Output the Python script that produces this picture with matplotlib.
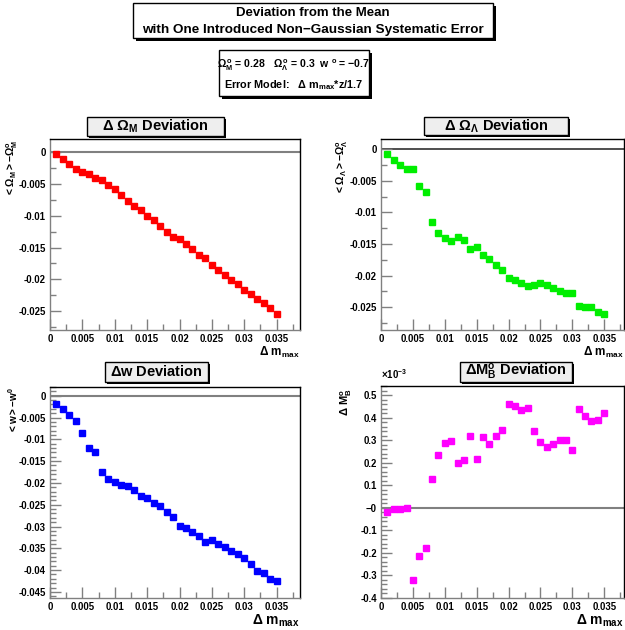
import matplotlib
matplotlib.use("Agg")
import matplotlib.pyplot as plt
from matplotlib.patches import Rectangle
from matplotlib.ticker import MultipleLocator, FuncFormatter
import numpy as np

plt.rcParams['font.family'] = ['Liberation Sans', 'DejaVu Sans']
plt.rcParams['mathtext.fontset'] = 'custom'
plt.rcParams['mathtext.rm'] = 'Liberation Sans:bold'
plt.rcParams['mathtext.it'] = 'Liberation Sans:bold'
plt.rcParams['mathtext.bf'] = 'Liberation Sans:bold'

# ---------------- data ----------------
dm_max = [0.001 * i for i in range(1, 36)]

d_omega_m = [-0.0003, -0.0011, -0.0018, -0.0026, -0.0031, -0.0034, -0.0040, -0.0044,
             -0.0051, -0.0058, -0.0067, -0.0076, -0.0084, -0.0091, -0.0100, -0.0107,
             -0.0116, -0.0126, -0.0133, -0.0137, -0.0145, -0.0153, -0.0162, -0.0166,
             -0.0178, -0.0186, -0.0194, -0.0201, -0.0208, -0.0217, -0.0224, -0.0231,
             -0.0238, -0.0246, -0.0254]

d_omega_l = [-0.0008, -0.0017, -0.0025, -0.0032, -0.0032, -0.0059, -0.0068, -0.0116,
             -0.0132, -0.0141, -0.0145, -0.0139, -0.0144, -0.0158, -0.0155, -0.0168,
             -0.0173, -0.0183, -0.0191, -0.0204, -0.0207, -0.0211, -0.0216, -0.0214,
             -0.0212, -0.0215, -0.0219, -0.0225, -0.0227, -0.0228, -0.0248, -0.0249,
             -0.0249, -0.0257, -0.0260]

d_w = [-0.0019, -0.0031, -0.0044, -0.0057, -0.0085, -0.0119, -0.0130, -0.0174,
       -0.0190, -0.0199, -0.0205, -0.0208, -0.0217, -0.0229, -0.0234, -0.0245,
       -0.0253, -0.0266, -0.0278, -0.0298, -0.0304, -0.0313, -0.0321, -0.0336,
       -0.0330, -0.0339, -0.0347, -0.0356, -0.0363, -0.0372, -0.0387, -0.0401,
       -0.0407, -0.0421, -0.0424]

# in units of 1e-3
d_mb = [-0.018, -0.006, -0.006, -0.003, -0.323, -0.215, -0.178, 0.129,
        0.233, 0.288, 0.297, 0.197, 0.211, 0.318, 0.217, 0.315,
        0.282, 0.318, 0.344, 0.461, 0.451, 0.435, 0.444, 0.340,
        0.291, 0.270, 0.282, 0.303, 0.303, 0.258, 0.438, 0.407,
        0.386, 0.392, 0.423]

W, H = 625, 630
fig = plt.figure(figsize=(W / 100, H / 100), dpi=100)
fig.patch.set_facecolor('white')


def fx(x):
    return x / W


def fy(y):
    return 1 - y / H


def box(x0, y0, x1, y1, fill='white', shadow='black', sh=3, lw=1.0):
    fig.patches.append(Rectangle((fx(x0 + sh), fy(y1 + sh)), fx(x1 - x0), (y1 - y0) / H,
                                 transform=fig.transFigure, facecolor=shadow,
                                 edgecolor='none', zorder=1))
    fig.patches.append(Rectangle((fx(x0), fy(y1)), fx(x1 - x0), (y1 - y0) / H,
                                 transform=fig.transFigure, facecolor=fill,
                                 edgecolor='black', lw=lw, zorder=2))


# Main title box
box(133, 3, 493, 38)
fig.text(fx(313), fy(13), 'Deviation from the Mean', ha='center', va='center',
         fontsize=9.5, fontweight='bold', zorder=3)
fig.text(fx(313), fy(30), 'with One Introduced Non\u2212Gaussian Systematic Error',
         ha='center', va='center', fontsize=9.7, fontweight='bold', zorder=3)

# Parameter box
box(219, 50, 369, 96)
fig.text(fx(294), fy(65),
         r'$\Omega^{\,o}_{M}$' + ' = 0.28   ' + r'$\Omega^{\,o}_{\Lambda}$'
         + ' = 0.3  w ' + r'$^{o}$' + ' = \u22120.7',
         ha='center', va='center', fontsize=7.6, fontweight='bold', zorder=3)
fig.text(fx(294), fy(85), 'Error Model:   \u0394 m' + r'$_{max}$' + '*z/1.7',
         ha='center', va='center', fontsize=7.8, fontweight='bold', zorder=3)

red = '#ff0000'
green = '#00ee00'
blue = '#0000ff'
magenta = '#ff00ff'


def make_ax(l, r, t, b, xlim, ylim, ymaj, ymin, yfmt):
    ax = fig.add_axes([fx(l), fy(b), fx(r - l), (b - t) / H])
    ax.set_xlim(*xlim)
    ax.set_ylim(*ylim)
    ax.xaxis.set_major_locator(MultipleLocator(0.005))
    ax.xaxis.set_minor_locator(MultipleLocator(0.0025))
    ax.yaxis.set_major_locator(MultipleLocator(ymaj))
    ax.yaxis.set_minor_locator(MultipleLocator(ymin))
    ax.xaxis.set_major_formatter(FuncFormatter(lambda v, p: '0' if abs(v) < 1e-12 else ('%g' % v)))
    ax.yaxis.set_major_formatter(FuncFormatter(yfmt))
    ax.tick_params(which='both', direction='in', top=False, right=False, color='#808080',
                   labelsize=6.9, pad=3)
    ax.tick_params(which='major', length=8, width=1)
    ax.tick_params(which='minor', length=4, width=1)
    ax.spines['left'].set_color('#808080')
    ax.spines['bottom'].set_color('#808080')
    for s in ax.spines.values():
        s.set_linewidth(1.0)
    return ax


def fmt_std(v, p):
    if abs(v) < 1e-12:
        return '0'
    return '%g' % v


def fmt_mb(v, p):
    if abs(v) < 1e-9:
        return '\u22120'
    return '%g' % round(v, 3)


# Panel 1
ax1 = make_ax(50, 300, 139, 330, (0, 0.0386), (-0.0280, 0.0021), 0.005, 0.0025, fmt_std)
ax1.axhline(0, color='#808080', lw=1.5, zorder=1)
ax1.plot(dm_max, d_omega_m, 's', color=red, ms=4.6, mec=red, zorder=3)

# Panel 2
ax2 = make_ax(381, 624, 139, 330, (0, 0.0381), (-0.02858, 0.00158), 0.005, 0.0025, fmt_std)
ax2.axhline(0, color='#303030', lw=1.2, zorder=1)
ax2.plot(dm_max, d_omega_l, 's', color=green, ms=4.6, mec=green, zorder=3)

# Panel 3
ax3 = make_ax(50, 300, 387, 598, (0, 0.0386), (-0.0464, 0.0020), 0.005, 0.001, fmt_std)
ax3.axhline(0, color='#808080', lw=1.5, zorder=1)
ax3.plot(dm_max, d_w, 's', color=blue, ms=4.6, mec=blue, zorder=3)

# Panel 4
ax4 = make_ax(381, 624, 386, 598, (0, 0.0381), (-0.402, 0.5415), 0.1, 0.02, fmt_mb)
ax4.axhline(0, color='#808080', lw=1.5, zorder=1)
ax4.plot(dm_max, d_mb, 's', color=magenta, ms=4.6, mec=magenta, zorder=3)

for ax in (ax1, ax2, ax3, ax4):
    for lab in ax.get_xticklabels() + ax.get_yticklabels():
        lab.set_fontweight('bold')

# Panel titles
gray_fill = '#eeeeee'
box(87, 117, 224, 136, fill=gray_fill, sh=2)
fig.text(fx(155), fy(126.5), r'$\Delta\ \Omega_{M}$ Deviation', ha='center', va='center',
         fontsize=10.5, fontweight='bold', zorder=3)
box(424, 117, 568, 135, fill=gray_fill, sh=2)
fig.text(fx(496), fy(126), r'$\Delta\ \Omega_{\Lambda}$ Deviation', ha='center', va='center',
         fontsize=10.5, fontweight='bold', zorder=3)
box(105, 362, 208, 382, fill=gray_fill, sh=2)
fig.text(fx(156.5), fy(372), r'$\Delta$w Deviation', ha='center', va='center',
         fontsize=10.5, fontweight='bold', zorder=3)
box(460, 362, 572, 382, fill=gray_fill, sh=2)
fig.text(fx(516), fy(372), r'$\Delta$M$^{o}_{B}$ Deviation', ha='center', va='center',
         fontsize=10.5, fontweight='bold', zorder=3)

# Y axis titles
fig.text(fx(12), fy(140), r'$<\Omega_{M}>-\Omega^{o}_{M}$', rotation=90, ha='center', va='top',
         fontsize=7.5, fontweight='bold')
fig.text(fx(342), fy(140), r'$<\Omega_{\Lambda}>-\Omega^{o}_{\Lambda}$', rotation=90, ha='center',
         va='top', fontsize=7.5, fontweight='bold')
fig.text(fx(13), fy(387), r'$<$w$>-$w$^{0}$', rotation=90, ha='center', va='top',
         fontsize=7.2, fontweight='bold')
fig.text(fx(346), fy(388), r'$\Delta$ M$^{o}_{B}$', rotation=90, ha='center', va='top',
         fontsize=8, fontweight='bold')
fig.text(fx(381), fy(381), r'$\times$10$^{-3}$', ha='left', va='bottom', fontsize=7,
         fontweight='bold')

# X axis titles
fig.text(fx(300), fy(352), r'$\Delta$ m$_{max}$', ha='right', va='center', fontsize=8.5,
         fontweight='bold')
fig.text(fx(624), fy(352), r'$\Delta$ m$_{max}$', ha='right', va='center', fontsize=8.5,
         fontweight='bold')
fig.text(fx(300), fy(621), r'$\Delta$ m$_{max}$', ha='right', va='center', fontsize=10,
         fontweight='bold')
fig.text(fx(624), fy(621), r'$\Delta$ m$_{max}$', ha='right', va='center', fontsize=10,
         fontweight='bold')

fig.savefig('out.png', dpi=100)
